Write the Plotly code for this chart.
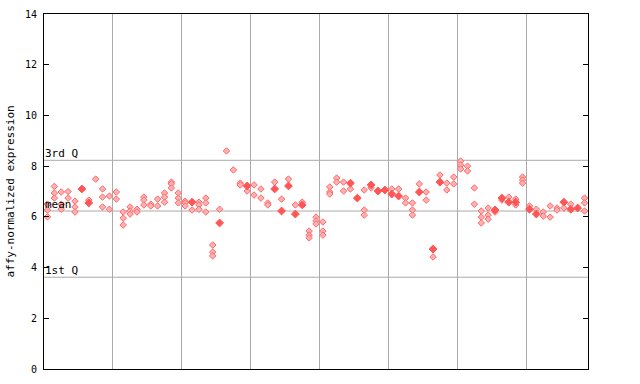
import plotly.graph_objects as go

# sample slots (0..78) and expression values
slot = [0,0,0, 1,1,1, 2,2,2, 3,3, 4,4,4, 5, 6,6, 7, 8,8,8, 9,9,
        10,10, 11,11,11, 12,12,12, 13,13, 14,14,14, 15,15, 16,16, 17,17,17, 18,18,18, 19,19,19,
        20,20,20, 21,21, 22,22,22, 23,23,23, 24,24,24, 25,25, 26, 27, 28,28, 29,29,
        30,30, 31,31, 32,32, 33,33, 34,34, 35,35, 36,36, 37,37, 38,38,38, 39,39,39,
        40,40,40, 41,41,41, 42,42, 43,43, 44,44, 45, 46,46,46, 47,47, 48, 49,
        50,50, 51,51, 52,52, 53,53,53, 54,54, 55,55, 56,56, 57,57, 58,58, 59,59,
        60,60,60, 61,61, 62,62, 63,63,63, 64,64,64, 65,65, 66,66, 67,67, 68,68,68, 69,69,69,
        70,70, 71,71, 72,72, 73,73, 74,74, 75,75, 76,76, 77, 78,78,78]
value = [6.50,6.27,6.00, 7.20,6.94,6.74, 6.98,6.50,6.30, 7.00,6.74, 6.62,6.39,6.19, 7.10, 6.66,6.55, 7.49, 7.10,6.78,6.39, 6.82,6.30,
         6.98,6.70, 6.19,5.95,5.68, 6.39,6.23,6.11, 6.30,6.19, 6.78,6.66,6.47, 6.50,6.43, 6.70,6.43, 6.94,6.78,6.58, 7.37,7.30,7.14, 6.94,6.74,6.55,
         6.62,6.55,6.43, 6.58,6.27, 6.58,6.47,6.30, 6.74,6.55,6.19, 4.89,4.61,4.46, 6.30,5.76, 8.60, 7.85, 7.33,7.26, 7.22,7.02,
         7.26,6.86, 7.10,6.74, 6.55,6.47, 7.37,7.10, 6.70,6.23, 7.49,7.22, 6.47,6.11, 6.58,6.47, 5.44,5.28,5.17, 5.99,5.84,5.72,
         5.80,5.44,5.28, 7.18,6.98,6.90, 7.53,7.37, 7.37,7.02, 7.33,7.10, 6.74, 7.06,6.27,6.07, 7.26,7.14, 7.02, 7.06,
         7.10,6.90, 7.10,6.82, 6.74,6.55, 6.55,6.27,6.07, 7.30,6.98, 6.98,6.66, 4.73,4.42, 7.65,7.37, 7.33,7.06, 7.57,7.30,
         8.20,8.04,7.89, 8.00,7.81, 7.14,6.50, 6.23,5.99,5.76, 6.35,6.07,5.91, 6.27,6.19, 6.74,6.66, 6.78,6.58, 6.70,6.58,6.47, 7.57,7.45,7.33,
         6.43,6.30, 6.30,6.11, 6.19,6.03, 6.43,5.99, 6.35,6.27, 6.58,6.35, 6.50,6.30, 6.35, 6.74,6.55,6.23]
solid = [0,0,0, 0,0,0, 0,0,0, 0,0, 0,0,0, 1, 0,1, 0, 0,0,0, 0,0,
         0,0, 0,0,0, 0,0,0, 0,0, 0,0,0, 0,0, 0,0, 0,0,0, 0,0,0, 0,0,0,
         0,0,0, 1,0, 0,0,0, 0,0,0, 0,0,0, 0,1, 0, 0, 0,0, 1,0,
         0,0, 0,0, 0,0, 0,1, 0,1, 0,1, 0,1, 0,1, 0,0,0, 0,0,0,
         0,0,0, 0,0,0, 0,0, 0,0, 1,0, 1, 0,0,0, 1,0, 1, 1,
         0,1, 0,1, 0,0, 0,0,0, 0,1, 0,0, 1,0, 0,1, 0,0, 0,0,
         0,0,0, 0,0, 0,0, 0,0,0, 0,0,0, 1,0, 1,0, 0,1, 0,1,0, 0,0,0,
         0,1, 0,1, 0,0, 0,0, 0,0, 1,0, 0,1, 1, 0,0,0]

group_bounds = [9.5, 19.5, 29.5, 39.5, 49.5, 59.5, 69.5]
y_ticks = [0, 2, 4, 6, 8, 10, 12, 14]
q_lines = {"3rd Q": 8.23, "mean": 6.23, "1st Q": 3.62}

FONT = "DejaVu Sans Mono"
RED = "#ff5555"

fig = go.Figure()
xs_open = [s for s, f in zip(slot, solid) if not f]
ys_open = [v for v, f in zip(value, solid) if not f]
xs_sol = [s for s, f in zip(slot, solid) if f]
ys_sol = [v for v, f in zip(value, solid) if f]

fig.add_trace(go.Scatter(x=xs_open, y=ys_open, mode="markers", hoverinfo="skip",
                         marker=dict(symbol="diamond", size=5, color="#ffb0b0",
                                     line=dict(color="#ff6a6a", width=1))))
fig.add_trace(go.Scatter(x=xs_sol, y=ys_sol, mode="markers", hoverinfo="skip",
                         marker=dict(symbol="diamond", size=6, color=RED,
                                     line=dict(color=RED, width=1))))

for name, yv in q_lines.items():
    fig.add_shape(type="line", xref="paper", x0=0, x1=1, yref="y", y0=yv, y1=yv,
                  line=dict(color="#aaaaaa", width=1), layer="below")
    fig.add_annotation(x=0, xref="paper", y=yv, yref="y", text=name, showarrow=False,
                       xanchor="left", yanchor="bottom", xshift=-1, yshift=-2,
                       font=dict(family=FONT, size=11, color="black"))

fig.add_annotation(x=0, xref="paper", y=0.5, yref="paper", text="affy-normalized expression",
                   textangle=-90, showarrow=False, xanchor="center", yanchor="middle",
                   xshift=-34, font=dict(family=FONT, size=11, color="black"))

fig.update_layout(
    width=640, height=384,
    margin=dict(l=44, r=52, t=14, b=15, autoexpand=False),
    paper_bgcolor="white", plot_bgcolor="white",
    showlegend=False,
    font=dict(family=FONT, size=10, color="black"),
    xaxis=dict(range=[-0.5, 78.5], tickvals=group_bounds, showticklabels=False,
               ticks="", showgrid=True, gridcolor="#aaaaaa", gridwidth=1,
               showline=True, linecolor="black", linewidth=1, mirror=True, zeroline=False),
    yaxis=dict(range=[0, 14], tickvals=y_ticks, ticks="inside", ticklen=5, tickcolor="black",
               showgrid=False, showline=True, linecolor="black", linewidth=1, mirror="ticks",
               zeroline=False, ticklabelstandoff=4),
)

fig.write_html("out.html", config={"displayModeBar": False},
               post_script="document.body.style.margin='0';")
